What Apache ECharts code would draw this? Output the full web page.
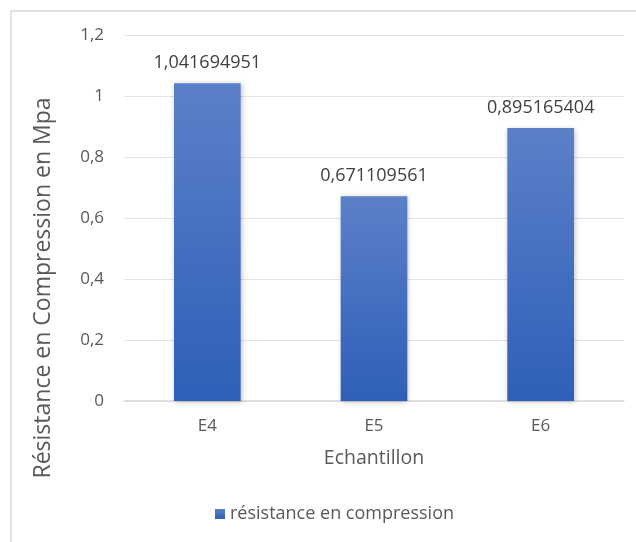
<!DOCTYPE html>
<html><head><meta charset="utf-8">
<script src="https://cdn.jsdelivr.net/npm/echarts@6/dist/echarts.min.js"></script>
<style>html,body{margin:0;padding:0;background:#fff}#c{width:636px;height:542px}</style>
</head><body><div id="c"></div>
<script>
var categories = ['E4', 'E5', 'E6'];
var values = [1.041694951, 0.671109561, 0.895165404];
var yTicks = [0, 0.2, 0.4, 0.6, 0.8, 1, 1.2];
var seriesName = 'résistance en compression';
var xTitle = 'Echantillon';
var yTitle = 'Résistance en Compression en Mpa';

var font = '"Open Sans", "Noto Sans", sans-serif';
var chart = echarts.init(document.getElementById('c'), null, {renderer: 'canvas'});
function fmt(v) { return String(v).replace('.', ','); }
chart.setOption({
  animation: false,
  backgroundColor: '#fff',
  graphic: [
    {type: 'rect', shape: {x: 11, y: 11, width: 640, height: 560}, style: {fill: 'none', stroke: '#d9d9d9', lineWidth: 1.5}, silent: true},
    {type: 'text', x: 43, y: 288, rotation: Math.PI / 2,
      style: {text: yTitle, font: '23px ' + font, fill: '#595959', textAlign: 'center', textVerticalAlign: 'middle'}}
  ],
  grid: {left: 124, right: 12, top: 35, bottom: 141, containLabel: false},
  legend: {
    bottom: 14, left: 210, itemWidth: 10, itemHeight: 10, itemGap: 6,
    icon: 'rect',
    textStyle: {color: '#595959', fontSize: 18, fontFamily: font},
    data: [seriesName]
  },
  xAxis: {
    type: 'category', data: categories,
    name: xTitle, nameLocation: 'middle', nameGap: 47,
    nameTextStyle: {color: '#595959', fontSize: 19.5, fontFamily: font},
    axisLine: {lineStyle: {color: '#d9d9d9', width: 1.5}},
    axisTick: {show: false},
    axisLabel: {color: '#595959', fontSize: 17, fontFamily: font, margin: 17}
  },
  yAxis: {
    type: 'value', min: 0, max: 1.2, interval: 0.2,
    axisLine: {show: false}, axisTick: {show: false},
    splitLine: {lineStyle: {color: '#e3e3e3', width: 1}},
    axisLabel: {color: '#595959', fontSize: 17, fontFamily: font, margin: 20,
      formatter: function (v) { return fmt(Math.round(v * 10) / 10); }}
  },
  series: [{
    name: seriesName, type: 'bar', data: values, barWidth: '40%',
    itemStyle: {
      color: new echarts.graphic.LinearGradient(0, 0, 0, 1, [
        {offset: 0, color: '#5b80c8'}, {offset: 1, color: '#2f5fb8'}]),
      shadowColor: 'rgba(0,0,0,0.25)', shadowBlur: 5, shadowOffsetX: 1, shadowOffsetY: 1
    },
    label: {show: true, position: 'top', distance: 11, color: '#404040', fontSize: 18, fontFamily: font,
      formatter: function (p) { return fmt(p.value); }}
  }]
});
</script></body></html>
